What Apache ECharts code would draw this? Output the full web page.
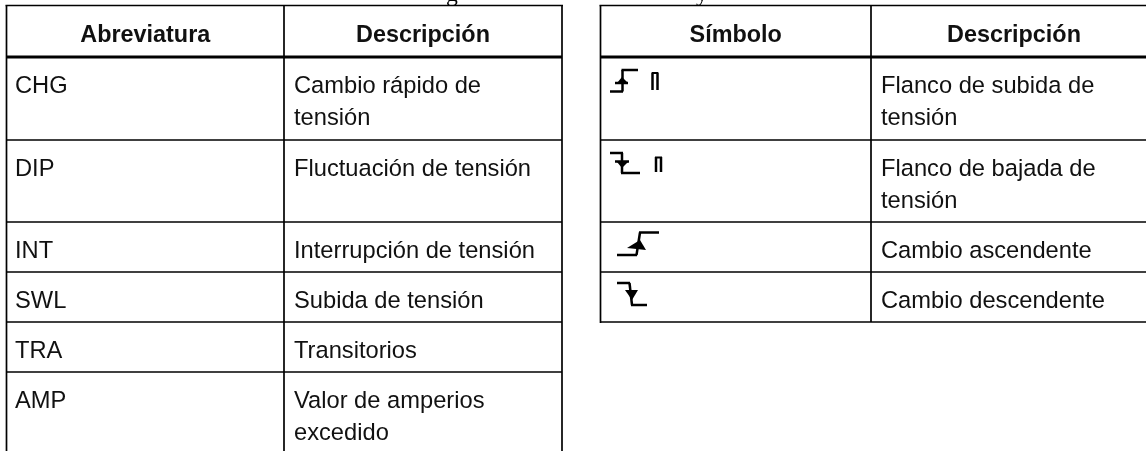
<!DOCTYPE html>
<html><head><meta charset="utf-8">
<style>html,body{margin:0;padding:0;background:#fff}#c{width:1146px;height:451px}</style>
<script src="https://cdn.jsdelivr.net/npm/echarts@6/dist/echarts.min.js"></script>
</head><body><div id="c"></div>
<script>
const leftHeaders = ['Abreviatura', 'Descripción'];
const abbreviations = ['CHG', 'DIP', 'INT', 'SWL', 'TRA', 'AMP'];
const abbreviationDescriptions = ['Cambio rápido de\ntensión', 'Fluctuación de tensión', 'Interrupción de tensión', 'Subida de tensión', 'Transitorios', 'Valor de amperios\nexcedido'];
const rightHeaders = ['Símbolo', 'Descripción'];
const symbolNames = ['riseEdge', 'fallEdge', 'riseChange', 'fallChange'];
const symbolDescriptions = ['Flanco de subida de\ntensión', 'Flanco de bajada de\ntensión', 'Cambio ascendente', 'Cambio descendente'];

const rowLines = [57, 140, 222, 272, 322, 372];
const L = {x0: 6.5, sep: 284, x1: 562, textA: 15, textB: 294};
const R = {x0: 600.5, sep: 871, x1: 1146, textB: 881};
const TOP = 5.5, BOTTOM = 451, LW = 1.7;
const FS = 23.7, FS_BOLD = 23.4;
const FONT = '"Liberation Sans", Arial, sans-serif';
const BASE = 5.6;   // distance from the text anchor to the alphabetic baseline
const rowTop = i => rowLines[i];

const segs = [], texts = [], polys = [];
function seg(x1, y1, x2, y2, w) { segs.push([x1, y1, x2, y2, w]); }
function txt(x, y, s, bold, align) { texts.push([x, y, s, bold ? 1 : 0, align || 'left']); }
function poly(p) { polys.push(p); }

// grid lines of the left table
seg(L.x0 - 1, TOP, L.x1 + 1, TOP, LW);
seg(L.x0, TOP, L.x0, BOTTOM, LW);
seg(L.sep, TOP, L.sep, BOTTOM, LW);
seg(L.x1, TOP, L.x1, BOTTOM, LW);
rowLines.forEach((y, i) => seg(L.x0, y, L.x1, y, i === 0 ? 3 : LW));
// grid lines of the right table
seg(R.x0 - 1, TOP, R.x1, TOP, LW);
seg(R.x0, TOP, R.x0, rowLines[4] + 1, LW);
seg(R.sep, TOP, R.sep, rowLines[4], LW);
rowLines.slice(0, 5).forEach((y, i) => seg(R.x0, y, R.x1, y, i === 0 ? 3 : LW));

// headers
const HEAD = 41;
txt((L.x0 + L.sep) / 2, HEAD, leftHeaders[0], true, 'center');
txt((L.sep + L.x1) / 2, HEAD, leftHeaders[1], true, 'center');
txt((R.x0 + R.sep) / 2, HEAD, rightHeaders[0], true, 'center');
txt((R.sep + R.x1) / 2 + 5.5, HEAD, rightHeaders[1], true, 'center');

// body text
abbreviations.forEach((s, i) => {
  const y = rowTop(i) + 35.5;
  txt(L.textA, y, s);
  abbreviationDescriptions[i].split('\n').forEach((ln, k) => txt(L.textB, y + k * 31.5, ln));
});
symbolDescriptions.forEach((s, i) => {
  const y = rowTop(i) + 35.5;
  s.split('\n').forEach((ln, k) => txt(R.textB, y + k * 31.5, ln));
});

// clipped descenders of the line of text above the tables
const cutGlyphs = [[452, 0, 'g'], [702, 0, 'y']];

// symbols
const symbolDraw = {
  riseEdge() {
    seg(610, 91.5, 623, 91.5, 2.5); seg(622.5, 91.5, 622.5, 70, 2.5); seg(621.5, 70, 638, 70, 2.5);
    seg(615, 83, 628, 83, 2.5); poly([[622, 77], [617, 83], [628, 83]]);
    seg(652.5, 72.5, 652.5, 90, 2.5); seg(657.5, 72.5, 657.5, 90, 2.5); seg(652, 73, 658, 73, 2);
  },
  fallEdge() {
    seg(610, 153, 623, 153, 2.5); seg(622, 153, 622, 173, 2.5); seg(621, 173, 640, 173, 2.5);
    seg(615, 161.5, 629, 161.5, 2.5); poly([[617, 162], [628, 162], [622, 168]]);
    seg(656, 157, 656, 172, 2.5); seg(661, 157, 661, 172, 2.5); seg(655, 157.5, 662, 157.5, 2);
  },
  riseChange() {
    seg(617, 255, 637, 255, 2.5); seg(636.5, 255, 640, 232.5, 2.5); seg(639, 232.5, 659, 232.5, 2.5);
    poly([[640, 240], [627, 248], [646, 250]]);
  },
  fallChange() {
    seg(617, 283, 630, 283, 2.5); seg(629.5, 283, 632, 305, 2.5); seg(631, 305, 647, 305, 2.5);
    poly([[625, 290], [638, 290], [632, 300]]);
  }
};
symbolNames.forEach(n => symbolDraw[n]());

const segSeries = {
  type: 'custom', silent: true, clip: false, animation: false,
  data: segs,
  encode: {x: [0, 2], y: [1, 3]},
  renderItem(p, api) {
    const a = api.coord([api.value(0), api.value(1)]), b = api.coord([api.value(2), api.value(3)]);
    return {type: 'line', shape: {x1: a[0], y1: a[1], x2: b[0], y2: b[1]}, style: {stroke: '#000', lineWidth: api.value(4)}};
  }
};
const polySeries = {
  type: 'custom', silent: true, clip: false, animation: false,
  data: polys.map((p, i) => [p[0][0], p[0][1], i]),
  renderItem(p, api) {
    return {type: 'polygon', shape: {points: polys[api.value(2)].map(q => api.coord(q))}, style: {fill: '#000'}};
  }
};
const textSeries = {
  type: 'custom', silent: true, clip: false, animation: false,
  data: texts,
  renderItem(p, api) {
    const t = texts[p.dataIndex], c = api.coord([t[0], t[1] - BASE]);
    return {type: 'text', x: c[0], y: c[1], style: {text: t[2], fill: '#111', font: (t[3] ? 'bold ' + FS_BOLD : FS) + 'px ' + FONT, textAlign: t[4], textVerticalAlign: 'middle'}};
  }
};
const cutSeries = {
  type: 'custom', silent: true, clip: false, animation: false,
  data: cutGlyphs,
  renderItem(p, api) {
    const t = cutGlyphs[p.dataIndex], c = api.coord([t[0], t[1] - BASE]);
    return {type: 'text', x: c[0], y: c[1], style: {text: t[2], fill: '#000', font: FS + 'px "Liberation Serif", serif', textAlign: 'center', textVerticalAlign: 'middle'}};
  }
};

const chart = echarts.init(document.getElementById('c'), null, {renderer: 'canvas'});
chart.setOption({
  animation: false,
  backgroundColor: '#fff',
  grid: {left: 0, right: 0, top: 0, bottom: 0},
  xAxis: {type: 'value', min: 0, max: 1146, show: false},
  yAxis: {type: 'value', min: 0, max: 451, inverse: true, show: false},
  series: [segSeries, polySeries, textSeries, cutSeries]
});
</script></body></html>
